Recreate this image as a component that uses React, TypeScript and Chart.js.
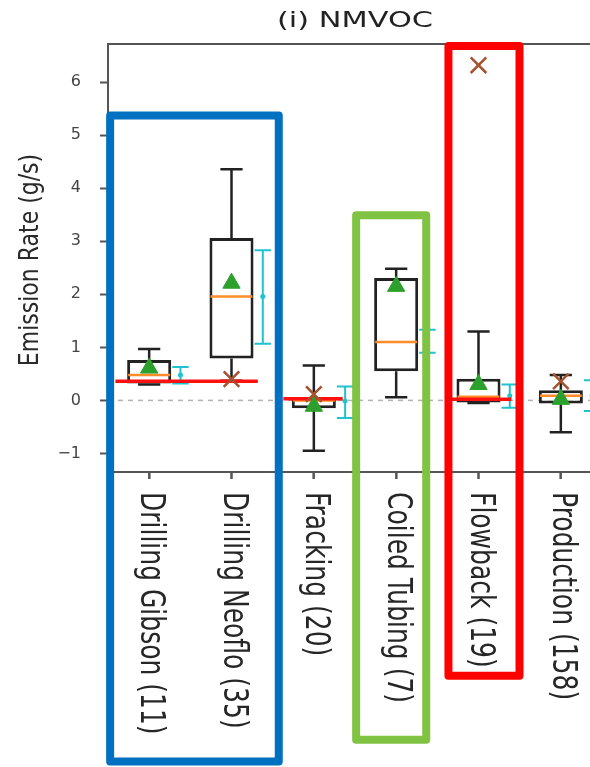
import React, { useEffect, useRef } from 'react';
import { Chart, registerables } from 'chart.js';

Chart.register(...registerables);

// ---------- data ----------
const categories = [
  'Drilling Gibson (11)',
  'Drilling Neoflo (35)',
  'Fracking (20)',
  'Coiled Tubing (7)',
  'Flowback (19)',
  'Production (158)',
];
const whiskerLow = [0.3, 0.37, -0.95, 0.06, -0.05, -0.6];
const q1 = [0.32, 0.79, -0.15, 0.55, -0.04, -0.06];
const median = [0.48, 1.96, 0.0, 1.1, 0.07, 0.09];
const q3 = [0.76, 3.06, 0.05, 2.31, 0.41, 0.19];
const whiskerHigh = [0.97, 4.36, 0.66, 2.48, 1.3, 0.48];
const mean = [0.61, 2.21, -0.11, 2.15, 0.3, 0.02];
const crossMarks: (number | null)[] = [null, 0.4, 0.12, null, 6.32, 0.36];
const ciLow = [0.32, 1.07, -0.33, 0.9, -0.14, -0.2];
const ciMid = [0.48, 1.96, -0.01, 1.11, 0.09, 0.09];
const ciHigh = [0.63, 2.83, 0.26, 1.33, 0.3, 0.38];
// reference (red) lines: value and category span
const refValue = [0.36, 0.03, 0.02];
const refStart = [-0.41, 1.63, 3.6];
const refEnd = [1.32, 2.35, 4.4];
// highlight boxes in data units
const highlightX0 = [-0.474, 2.514, 3.635];
const highlightX1 = [1.574, 3.365, 4.498];
const highlightTop = [5.37, 3.49, 6.68];
const highlightBottom = [-6.81, -6.4, -5.19];
const highlightColors = ['#0070c0', '#80c342', '#ff0000'];
const yTickValues = [-1, 0, 1, 2, 3, 4, 5, 6];
const xTickValues = [0, 1, 2, 3, 4, 5];

const title = '(i) NMVOC';
const yTitle = 'Emission Rate (g/s)';
const FONT = "'DejaVu Sans', sans-serif";

const BOX_INDEX = 2;

function stretchedText(
  ctx: CanvasRenderingContext2D,
  text: string,
  x: number,
  y: number,
  size: number,
  sx: number,
  rot: number,
  align: CanvasTextAlign,
  color: string
) {
  ctx.save();
  ctx.translate(x, y);
  ctx.scale(sx, 1);
  ctx.rotate(rot);
  ctx.font = `${size}px ${FONT}`;
  ctx.fillStyle = color;
  ctx.textAlign = align;
  ctx.textBaseline = 'middle';
  ctx.fillText(text, 0, 0);
  ctx.restore();
}

const extras = {
  id: 'boxExtras',
  beforeDatasetsDraw(chart: any) {
    const { ctx, chartArea: a, scales } = chart;
    const x = scales.x;
    const y = scales.y;
    ctx.save();
    // zero reference dashed line
    const y0 = y.getPixelForValue(0);
    ctx.strokeStyle = '#b3b3b3';
    ctx.lineWidth = 1.5;
    ctx.setLineDash([5, 5]);
    ctx.beginPath();
    ctx.moveTo(a.left, y0);
    ctx.lineTo(a.right, y0);
    ctx.stroke();
    ctx.setLineDash([]);
    // top / right spines and bottom tick marks
    ctx.strokeStyle = '#555';
    ctx.lineWidth = 2;
    ctx.beginPath();
    ctx.moveTo(a.left - 1, a.top);
    ctx.lineTo(a.right, a.top);
    ctx.lineTo(a.right, a.bottom);
    xTickValues.forEach((v) => {
      const px = x.getPixelForValue(v);
      ctx.moveTo(px, a.bottom);
      ctx.lineTo(px, a.bottom + 7);
    });
    ctx.stroke();
    // whiskers
    ctx.strokeStyle = '#222';
    ctx.lineWidth = 2.5;
    categories.forEach((_, i) => {
      const cx = x.getPixelForValue(i);
      const cl = x.getPixelForValue(i - 0.135);
      const cr = x.getPixelForValue(i + 0.135);
      const yl = y.getPixelForValue(whiskerLow[i]);
      const yq1 = y.getPixelForValue(q1[i]);
      const yq3 = y.getPixelForValue(q3[i]);
      const yh = y.getPixelForValue(whiskerHigh[i]);
      ctx.beginPath();
      ctx.moveTo(cx, yl);
      ctx.lineTo(cx, yq1);
      ctx.moveTo(cx, yq3);
      ctx.lineTo(cx, yh);
      ctx.moveTo(cl, yl);
      ctx.lineTo(cr, yl);
      ctx.moveTo(cl, yh);
      ctx.lineTo(cr, yh);
      ctx.stroke();
    });
    ctx.restore();
  },
  afterDatasetDraw(chart: any, args: any) {
    if (args.index !== BOX_INDEX) return;
    const { ctx, chartArea: a, scales } = chart;
    const x = scales.x;
    const y = scales.y;
    ctx.save();
    ctx.beginPath();
    ctx.rect(a.left, a.top, a.right - a.left, a.bottom - a.top);
    ctx.clip();
    // medians
    ctx.strokeStyle = '#ff8c2a';
    ctx.lineWidth = 2.5;
    categories.forEach((_, i) => {
      const ym = y.getPixelForValue(median[i]);
      ctx.beginPath();
      ctx.moveTo(x.getPixelForValue(i - 0.255), ym);
      ctx.lineTo(x.getPixelForValue(i + 0.255), ym);
      ctx.stroke();
    });
    // cyan interval bars
    ctx.strokeStyle = '#1fc3d0';
    ctx.fillStyle = '#1fc3d0';
    ctx.lineWidth = 2;
    categories.forEach((_, i) => {
      const cx = x.getPixelForValue(i + 0.38);
      const l = x.getPixelForValue(i + 0.28);
      const r = x.getPixelForValue(i + 0.48);
      const yl = y.getPixelForValue(ciLow[i]);
      const yh = y.getPixelForValue(ciHigh[i]);
      const ym = y.getPixelForValue(ciMid[i]);
      ctx.beginPath();
      ctx.moveTo(cx, yl);
      ctx.lineTo(cx, yh);
      ctx.moveTo(l, yl);
      ctx.lineTo(r, yl);
      ctx.moveTo(l, yh);
      ctx.lineTo(r, yh);
      ctx.stroke();
      ctx.beginPath();
      ctx.arc(cx, ym, 2.5, 0, Math.PI * 2);
      ctx.fill();
    });
    // red reference lines
    ctx.strokeStyle = '#ff1010';
    ctx.lineWidth = 3.5;
    refValue.forEach((v, k) => {
      const yy = y.getPixelForValue(v);
      ctx.beginPath();
      ctx.moveTo(x.getPixelForValue(refStart[k]), yy);
      ctx.lineTo(x.getPixelForValue(refEnd[k]), yy);
      ctx.stroke();
    });
    ctx.restore();
  },
  afterDraw(chart: any) {
    const { ctx, chartArea: a, scales } = chart;
    const x = scales.x;
    const y = scales.y;
    // title
    stretchedText(ctx, title, (a.left + a.right) / 2, 21, 22, 1.38, 0, 'center', '#222');
    // y axis title
    stretchedText(ctx, yTitle, 31, (a.top + a.bottom) / 2 + 2, 22, 1.2, -Math.PI / 2, 'center', '#2a2a2a');
    // x labels
    categories.forEach((c, i) => {
      stretchedText(ctx, c, x.getPixelForValue(i) + 1, a.bottom + 20, 25, 1.34, Math.PI / 2, 'left', '#262626');
    });
    // highlight rectangles
    ctx.save();
    ctx.lineWidth = 8;
    ctx.lineJoin = 'round';
    highlightColors.forEach((col, k) => {
      const x0 = x.getPixelForValue(highlightX0[k]);
      const x1 = x.getPixelForValue(highlightX1[k]);
      const y0 = y.getPixelForValue(highlightTop[k]);
      const y1 = y.getPixelForValue(highlightBottom[k]);
      ctx.strokeStyle = col;
      ctx.strokeRect(x0, y0, x1 - x0, y1 - y0);
    });
    ctx.restore();
  },
};

export default function App() {
  const ref = useRef<HTMLCanvasElement | null>(null);

  useEffect(() => {
    if (!ref.current) return;
    const boxData = categories.map((_, i) => ({ x: i, y: [q1[i], q3[i]] }));
    const meanData = categories.map((_, i) => ({ x: i, y: mean[i] }));
    const crossData = crossMarks
      .map((v, i) => (v === null ? null : { x: i, y: v }))
      .filter((d) => d !== null);

    const chart = new Chart(ref.current, {
      type: 'scatter',
      data: {
        datasets: [
          {
            type: 'scatter',
            label: 'cross',
            data: crossData as any,
            pointStyle: 'crossRot',
            pointRadius: 11,
            borderColor: '#a5532f',
            backgroundColor: '#a5532f',
            borderWidth: 2.5,
          } as any,
          {
            type: 'scatter',
            label: 'mean',
            data: meanData,
            pointStyle: 'triangle',
            pointRadius: 10,
            borderColor: '#2ca02c',
            backgroundColor: '#2ca02c',
            borderWidth: 1,
          } as any,
          {
            type: 'bar',
            label: 'box',
            data: boxData as any,
            backgroundColor: '#ffffff',
            borderColor: '#222',
            borderWidth: 3,
            borderSkipped: false,
            categoryPercentage: 1,
            barPercentage: 0.535,
          } as any,
        ],
      },
      options: {
        responsive: false,
        animation: false,
        devicePixelRatio: 1,
        layout: { padding: { left: 0, right: 38, top: 44, bottom: 0 } },
        plugins: {
          legend: { display: false },
          tooltip: { enabled: false },
          title: { display: false },
        },
        scales: {
          x: {
            type: 'linear',
            min: -0.5,
            max: 5.5,
            offset: false,
            afterBuildTicks: (s: any) => {
              s.ticks = xTickValues.map((v) => ({ value: v }));
            },
            ticks: { display: false, includeBounds: false },
            grid: {
              offset: false,
              drawOnChartArea: false,
              drawTicks: true,
              tickLength: 7,
              tickWidth: 2,
              tickColor: '#555',
            },
            border: { display: true, color: '#555', width: 2 },
            afterFit: (s: any) => {
              s.height = 295;
            },
          },
          y: {
            type: 'linear',
            min: -1.35,
            max: 6.72,
            afterBuildTicks: (s: any) => {
              s.ticks = yTickValues.map((v) => ({ value: v }));
            },
            ticks: {
              includeBounds: false,
              padding: 19,
              color: '#444',
              font: { family: FONT, size: 16 },
              callback: (v: any) => (Number(v) < 0 ? '\u2212' + Math.abs(Number(v)) : String(v)),
            },
            grid: {
              drawOnChartArea: false,
              drawTicks: true,
              tickLength: 8,
              tickWidth: 2,
              tickColor: '#555',
            },
            border: { display: true, color: '#555', width: 2 },
            afterFit: (s: any) => {
              s.width = 108;
            },
          },
        },
      } as any,
      plugins: [extras],
    });
    return () => chart.destroy();
  }, []);

  return (
    <div
      style={{
        position: 'absolute',
        left: 0,
        top: 0,
        width: 590,
        height: 767,
        overflow: 'hidden',
        background: '#fff',
      }}
    >
      <canvas ref={ref} width={640} height={767} style={{ display: 'block', width: 640, height: 767 }} />
    </div>
  );
}
